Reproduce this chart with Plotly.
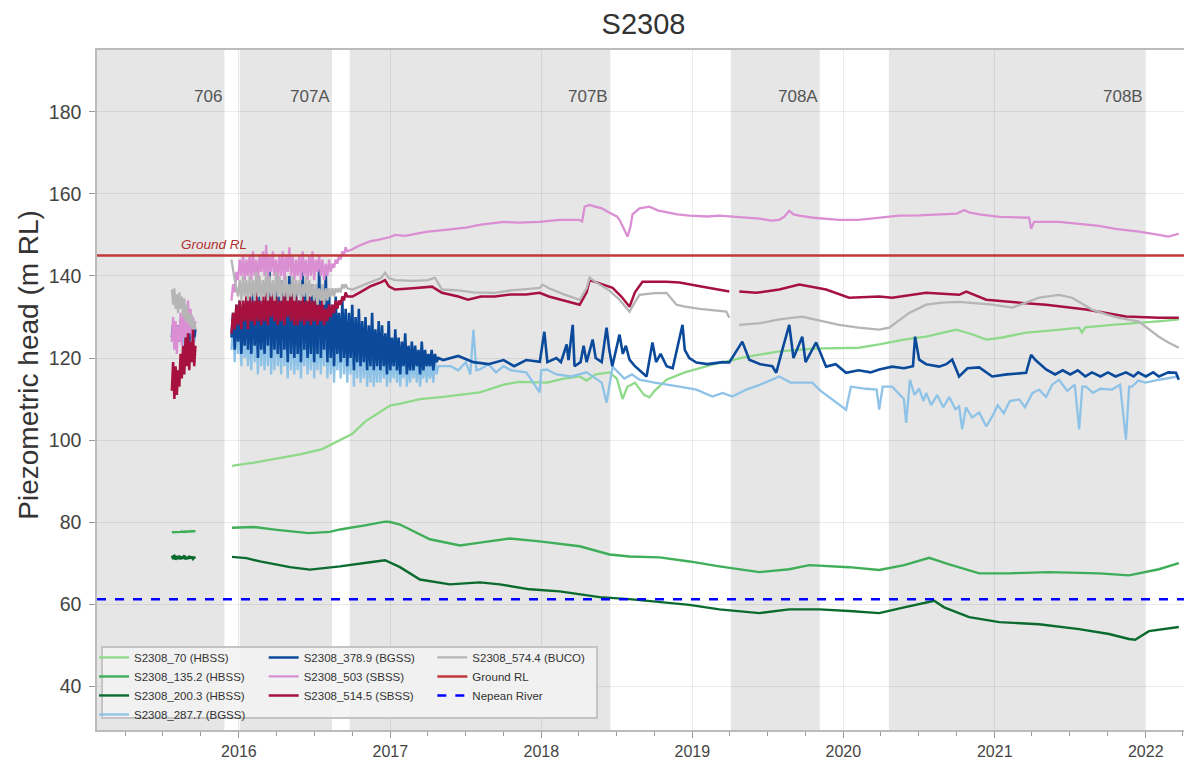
import plotly.graph_objects as go
import pandas as pd
from datetime import datetime

# ---------------- data (late segments: (decimal year, m RL)) ----------------
# early 2015 block: values every 3 days from early_start
early_start = "2015-07-23"
# dense 2016 block: values every 4 days from dense_start
dense_start = "2015-12-14"

hbss70 = [(2015.954, 93.6), (2015.97, 93.8), (2016.10, 94.5), (2016.25, 95.5), (2016.403, 96.5),
          (2016.55, 97.8), (2016.668, 100.0), (2016.75, 101.5), (2016.833, 104.5), (2016.92, 106.5),
          (2016.998, 108.4), (2017.06, 108.8), (2017.196, 110.0), (2017.35, 110.5), (2017.5, 111.2),
          (2017.593, 111.6), (2017.751, 113.5), (2017.85, 114.2), (2018.036, 114.0), (2018.15, 115.0),
          (2018.254, 115.5), (2018.30, 114.5), (2018.36, 116.0), (2018.45, 116.5), (2018.50, 115.0),
          (2018.538, 110.0), (2018.57, 113.0), (2018.62, 114.0), (2018.68, 111.0), (2018.716, 110.4),
          (2018.75, 112.0), (2018.829, 114.7), (2018.95, 116.5), (2019.133, 118.4), (2019.358, 120.3),
          (2019.576, 121.6), (2019.80, 122.3), (2020.104, 122.5), (2020.237, 123.3), (2020.40, 124.5),
          (2020.547, 125.2), (2020.746, 126.9), (2020.85, 125.8), (2020.944, 124.5), (2021.05, 125.0),
          (2021.208, 126.2), (2021.40, 126.8), (2021.559, 127.4), (2021.578, 126.2), (2021.60, 127.5),
          (2021.777, 128.1), (2021.975, 128.6), (2022.10, 129.0), (2022.219, 129.4)]

hbss135_early = [77.5, 77.5, 77.6, 77.5, 77.6, 77.6, 77.5, 77.6, 77.7, 77.6,
                 77.7, 77.6, 77.7, 77.7, 77.6, 77.7, 77.8, 77.7, 77.8, 77.8]
hbss135 = [(2015.954, 78.6), (2016.10, 78.8), (2016.251, 78.1), (2016.40, 77.5), (2016.46, 77.3),
           (2016.60, 77.6), (2016.668, 78.2), (2016.833, 79.2), (2016.965, 80.1), (2017.0, 80.0),
           (2017.064, 79.4), (2017.262, 75.8), (2017.461, 74.3), (2017.593, 75.0), (2017.791, 76.0),
           (2017.989, 75.3), (2018.254, 74.1), (2018.452, 72.1), (2018.584, 71.6), (2018.783, 71.4),
           (2018.981, 70.4), (2019.179, 69.2), (2019.444, 67.8), (2019.642, 68.5), (2019.774, 69.5),
           (2020.038, 69.0), (2020.237, 68.3), (2020.402, 69.5), (2020.567, 71.3), (2020.699, 69.7),
           (2020.898, 67.5), (2021.096, 67.5), (2021.36, 67.8), (2021.691, 67.5), (2021.889, 67.0),
           (2022.087, 68.5), (2022.219, 70.0)]

hbss200_early = [71.8, 71.0, 72.0, 70.8, 71.7, 71.0, 71.8, 70.9, 71.6, 71.1,
                 71.9, 70.9, 71.5, 71.0, 71.7, 71.1, 71.6, 71.0, 71.4, 71.2]
hbss200 = [(2015.954, 71.5), (2016.05, 71.2), (2016.139, 70.4), (2016.337, 69.0), (2016.469, 68.4),
           (2016.668, 69.2), (2016.866, 70.2), (2016.965, 70.7), (2017.064, 69.0), (2017.196, 66.0),
           (2017.395, 64.8), (2017.593, 65.3), (2017.725, 64.8), (2017.923, 63.6), (2018.122, 63.1),
           (2018.386, 61.7), (2018.584, 61.2), (2018.783, 60.5), (2018.981, 59.8), (2019.179, 58.7),
           (2019.444, 57.8), (2019.642, 58.7), (2019.84, 58.7), (2020.038, 58.3), (2020.237, 57.8),
           (2020.402, 59.2), (2020.567, 60.5), (2020.60, 60.8), (2020.666, 59.2), (2020.831, 56.8),
           (2021.03, 55.6), (2021.294, 55.1), (2021.559, 53.9), (2021.757, 52.7), (2021.889, 51.5),
           (2021.93, 51.3), (2022.021, 53.4), (2022.219, 54.4)]

bgss287_early = [124, 127, 123, 126, 125, 128, 124, 126, 125, 127,
                 123, 126, 125, 127, 124, 126, 125, 128, 124, 126]
bgss287_dense = [122, 128, 119, 130, 121, 127, 118, 129, 120, 126,
                 118, 128, 117, 130, 119, 127, 116, 129, 118, 128,
                 117, 129, 118, 131, 116, 128, 117, 130, 118, 127,
                 116, 129, 118, 127, 115, 130, 117, 128, 116, 126,
                 117, 128, 115, 129, 118, 127, 116, 126, 117, 129,
                 115, 127, 117, 128, 116, 126, 118, 130, 115, 127,
                 116, 126, 114, 127, 117, 125, 115, 128, 116, 125,
                 114, 125, 116, 127, 113, 124, 115, 126, 114, 123,
                 115, 124, 113, 122, 114, 125, 113, 121, 114, 123,
                 114, 122, 115, 121, 113, 123, 114, 120, 115, 122,
                 114, 121, 113, 120, 115, 122, 113, 119, 114, 121,
                 115, 120, 114, 121, 113, 119, 115, 120, 114, 119,
                 115, 119, 114, 120, 116, 118]
bgss287 = [(2017.40, 118.0), (2017.45, 117.0), (2017.50, 119.0), (2017.53, 116.0), (2017.55, 126.9),
           (2017.57, 117.0), (2017.593, 117.2), (2017.65, 118.5), (2017.70, 116.5), (2017.75, 118.0),
           (2017.80, 117.0), (2017.90, 116.5), (2017.989, 111.6), (2018.0, 117.0), (2018.036, 117.2),
           (2018.10, 116.0), (2018.20, 115.5), (2018.30, 116.5), (2018.40, 114.0), (2018.432, 109.1),
           (2018.472, 117.9), (2018.55, 115.0), (2018.60, 116.0), (2018.65, 114.7), (2018.75, 114.0),
           (2018.85, 113.5), (2018.915, 113.0), (2019.027, 112.3), (2019.133, 110.6), (2019.20, 111.5),
           (2019.265, 110.6), (2019.358, 112.3), (2019.45, 113.5), (2019.576, 115.5), (2019.65, 114.0),
           (2019.794, 114.0), (2019.85, 112.0), (2020.018, 107.4), (2020.05, 113.0), (2020.15, 112.5),
           (2020.22, 112.3), (2020.237, 107.4), (2020.26, 113.0), (2020.323, 113.0), (2020.40, 110.0),
           (2020.415, 104.2), (2020.44, 114.7), (2020.47, 111.0), (2020.50, 112.5), (2020.53, 109.5),
           (2020.547, 111.5), (2020.58, 108.5), (2020.62, 111.0), (2020.66, 108.0), (2020.70, 110.5),
           (2020.74, 107.5), (2020.765, 108.2), (2020.785, 102.6), (2020.81, 108.0), (2020.85, 105.5),
           (2020.898, 106.7), (2020.944, 103.3), (2020.983, 105.7), (2021.02, 108.5), (2021.06, 106.5),
           (2021.10, 109.5), (2021.162, 109.9), (2021.20, 108.0), (2021.25, 111.5), (2021.294, 112.3),
           (2021.34, 110.5), (2021.38, 113.5), (2021.426, 114.7), (2021.48, 112.0), (2021.53, 113.5),
           (2021.559, 102.6), (2021.58, 113.0), (2021.605, 113.0), (2021.65, 111.5), (2021.70, 112.5),
           (2021.777, 112.3), (2021.83, 113.5), (2021.869, 100.1), (2021.89, 113.0), (2021.909, 113.0),
           (2021.95, 114.5), (2022.0, 114.0), (2022.087, 114.7), (2022.15, 115.0), (2022.219, 115.5)]

bgss378_early = [125, 128, 124, 127, 125, 128, 124, 129, 125, 128,
                 126, 127, 125, 128, 124, 127, 126, 128, 125, 127]
bgss378_dense = [125, 131, 122, 133, 124, 134, 121, 132, 123, 135,
                 122, 134, 121, 136, 123, 133, 120, 135, 122, 134,
                 121, 136, 123, 141, 120, 134, 122, 137, 121, 135,
                 120, 139, 122, 136, 119, 140, 121, 135, 120, 137,
                 121, 134, 119, 141, 122, 136, 120, 135, 121, 138,
                 119, 136, 121, 142, 120, 134, 122, 141, 119, 135,
                 120, 133, 118, 135, 121, 131, 119, 134, 120, 132,
                 118, 131, 120, 133, 117, 130, 119, 132, 118, 129,
                 119, 130, 117, 128, 118, 131, 117, 127, 118, 129,
                 117, 128, 118, 126, 116, 129, 117, 125, 118, 127,
                 117, 125, 116, 124, 118, 126, 116, 123, 117, 124,
                 117, 123, 118, 122, 116, 124, 117, 122, 118, 121,
                 118, 122, 117, 121, 119, 120]
bgss378 = [(2017.35, 119.5), (2017.45, 120.5), (2017.55, 119.0), (2017.65, 118.5), (2017.75, 119.5),
           (2017.82, 118.0), (2017.90, 119.5), (2017.99, 119.1), (2018.02, 126.4), (2018.04, 119.0),
           (2018.10, 120.0), (2018.13, 119.0), (2018.168, 123.3), (2018.18, 119.5), (2018.208, 128.1),
           (2018.22, 118.0), (2018.26, 119.0), (2018.28, 123.0), (2018.30, 119.0), (2018.34, 124.5),
           (2018.36, 120.0), (2018.40, 119.0), (2018.432, 127.4), (2018.45, 122.0), (2018.47, 118.0),
           (2018.518, 125.7), (2018.54, 121.0), (2018.56, 123.0), (2018.584, 119.6), (2018.62, 118.0),
           (2018.697, 115.5), (2018.736, 123.8), (2018.76, 119.0), (2018.79, 121.0), (2018.83, 118.0),
           (2018.87, 117.5), (2018.935, 128.1), (2018.95, 122.0), (2018.98, 120.0), (2019.027, 118.9),
           (2019.10, 118.5), (2019.20, 119.0), (2019.245, 118.9), (2019.331, 124.0), (2019.377, 119.6),
           (2019.45, 118.5), (2019.53, 118.0), (2019.556, 116.4), (2019.596, 122.0), (2019.642, 128.1),
           (2019.67, 120.0), (2019.728, 125.2), (2019.75, 119.0), (2019.82, 123.8), (2019.886, 117.9),
           (2019.95, 118.5), (2020.018, 116.4), (2020.10, 117.0), (2020.18, 116.5), (2020.237, 117.2),
           (2020.323, 117.9), (2020.40, 117.5), (2020.46, 118.0), (2020.474, 125.2), (2020.501, 119.6),
           (2020.547, 118.5), (2020.633, 117.9), (2020.68, 118.5), (2020.719, 119.6), (2020.765, 115.5),
           (2020.82, 117.5), (2020.898, 117.7), (2020.983, 115.5), (2021.08, 116.0), (2021.208, 116.4),
           (2021.241, 120.8), (2021.27, 119.5), (2021.34, 117.2), (2021.40, 116.0), (2021.45, 117.0),
           (2021.50, 116.0), (2021.55, 117.0), (2021.60, 115.5), (2021.644, 116.5), (2021.70, 115.5),
           (2021.75, 116.5), (2021.80, 115.5), (2021.869, 116.5), (2021.92, 115.5), (2021.95, 116.5),
           (2022.0, 115.5), (2022.05, 116.5), (2022.087, 115.5), (2022.15, 116.5), (2022.20, 116.4),
           (2022.219, 114.7)]

sbss503_early = [124, 130, 122, 129, 121, 128, 124, 131, 123, 130,
                 125, 133, 124, 134, 126, 132, 125, 130, 127, 129]
sbss503_dense = [134, 138, 136, 141, 139, 144, 140, 145, 139, 144,
                 140, 145, 139, 146, 140, 144, 139, 145, 141, 146,
                 140, 147.6, 139, 145, 141, 146, 140, 144, 139, 145,
                 140, 146, 139, 145, 141, 147, 140, 145, 139, 144,
                 140, 145, 139, 146, 140, 144, 139, 145, 140, 146,
                 139, 144, 141, 145, 140, 144, 139, 143, 140, 144,
                 141, 143, 142, 144, 143, 145, 144, 146, 145, 147, 146]
sbss503 = [(2016.75, 146.5), (2016.80, 147.5), (2016.87, 148.5), (2016.92, 148.8), (2017.0, 149.5),
           (2017.03, 150.0), (2017.10, 149.8), (2017.20, 150.5), (2017.25, 150.8), (2017.35, 151.2),
           (2017.50, 151.8), (2017.60, 152.5), (2017.75, 153.2), (2017.85, 153.0), (2017.99, 153.2),
           (2018.12, 153.7), (2018.25, 153.7), (2018.27, 153.3), (2018.287, 156.9), (2018.32, 157.3),
           (2018.353, 157.0), (2018.40, 156.5), (2018.452, 155.4), (2018.50, 154.5), (2018.518, 153.7),
           (2018.55, 151.0), (2018.571, 149.6), (2018.59, 152.0), (2018.604, 155.0), (2018.65, 156.5),
           (2018.716, 156.9), (2018.77, 156.0), (2018.816, 155.7), (2018.90, 155.0), (2018.981, 154.7),
           (2019.10, 154.5), (2019.179, 154.7), (2019.30, 154.3), (2019.444, 154.0), (2019.52, 153.5),
           (2019.576, 153.7), (2019.61, 154.5), (2019.642, 155.9), (2019.67, 155.0), (2019.708, 154.7),
           (2019.80, 154.2), (2019.972, 153.7), (2020.10, 153.7), (2020.171, 154.0), (2020.30, 154.4),
           (2020.369, 154.7), (2020.50, 154.8), (2020.633, 155.0), (2020.75, 155.2), (2020.799, 156.1),
           (2020.83, 155.5), (2020.898, 155.0), (2021.03, 154.4), (2021.15, 154.3), (2021.228, 154.2),
           (2021.241, 151.5), (2021.26, 153.2), (2021.426, 153.2), (2021.55, 152.8), (2021.691, 152.2),
           (2021.80, 151.5), (2021.955, 150.8), (2022.087, 150.0), (2022.15, 149.6), (2022.219, 150.3)]

sbss514_early = [112, 119, 110, 118, 111, 117, 113, 121, 115, 123,
                 116, 125, 118, 126, 117, 124, 119, 127, 118, 123]
sbss514_dense = [126, 131, 127, 133, 128, 134, 127, 134, 129, 135,
                 127, 135, 129, 134, 128, 136, 129, 134, 128, 135,
                 129, 136, 128, 135, 130, 136, 129, 135, 128, 134,
                 129, 135, 128, 136, 130, 135, 129, 136, 128, 135,
                 128, 134, 129, 135, 128, 134, 129, 135, 128, 134,
                 129, 134, 128, 133, 129, 134, 128, 132, 129, 133,
                 130, 133, 131, 134, 132, 134, 133, 135, 134, 136, 135]
sbss514 = [(2016.75, 135.0), (2016.80, 136.0), (2016.87, 137.5), (2016.94, 138.5), (2016.965, 139.0),
           (2016.99, 137.5), (2017.031, 136.7), (2017.15, 137.0), (2017.276, 137.4), (2017.342, 135.9),
           (2017.45, 135.0), (2017.514, 134.2), (2017.60, 135.0), (2017.692, 135.0), (2017.80, 135.5),
           (2017.90, 135.5), (2017.989, 135.9), (2018.05, 135.0), (2018.15, 134.0), (2018.254, 133.0),
           (2018.30, 136.0), (2018.32, 139.0), (2018.40, 138.0), (2018.472, 137.1), (2018.53, 135.0),
           (2018.584, 132.5), (2018.62, 136.0), (2018.67, 138.6), (2018.829, 138.6), (2018.915, 138.4),
           (2019.05, 137.5), (2019.15, 136.8), (2019.245, 136.2), (2019.28, None), (2019.311, 136.2),
           (2019.424, 135.9), (2019.576, 136.7), (2019.708, 137.9), (2019.886, 136.7), (2020.038, 134.7),
           (2020.237, 135.0), (2020.323, 134.7), (2020.547, 135.9), (2020.765, 135.4), (2020.812, 136.2),
           (2020.944, 134.2), (2021.162, 133.5), (2021.340, 133.0), (2021.605, 131.8), (2021.869, 130.1),
           (2022.087, 129.8), (2022.219, 129.8)]

buco574_early = [136.7, 133, 137, 132, 135.5, 131, 136, 132, 135, 130,
                 134.5, 129, 133, 128.5, 131, 127.5, 130.5, 127, 129, 127]
buco574_dense = [144, 141, 139, 137, 135, 139, 134, 140, 135, 139,
                 134, 140, 135, 139, 134, 141, 135, 140, 134, 139,
                 135, 141, 134, 140, 135, 139, 134, 141, 135, 140,
                 134, 139, 135, 140, 134, 138, 135, 140, 134, 139,
                 135, 139, 134, 138, 135, 140, 134, 139, 135, 138,
                 134, 138, 133, 137, 134, 138, 133, 137, 134, 137,
                 135, 137, 135, 137, 136, 137, 136, 138, 137, 138, 137]
buco574 = [(2016.75, 136.7), (2016.80, 137.5), (2016.87, 138.5), (2016.94, 139.5), (2016.965, 140.8),
           (2016.99, 139.5), (2017.031, 139.0), (2017.15, 138.8), (2017.249, 139.0), (2017.295, 139.6),
           (2017.342, 136.7), (2017.45, 136.5), (2017.55, 136.0), (2017.692, 135.9), (2017.80, 136.5),
           (2017.90, 136.8), (2017.989, 137.1), (2018.009, 137.9), (2018.05, 137.0), (2018.15, 135.5),
           (2018.254, 134.2), (2018.30, 137.0), (2018.32, 139.6), (2018.36, 138.5), (2018.45, 136.5),
           (2018.518, 134.2), (2018.584, 131.3), (2018.61, 133.0), (2018.65, 135.4), (2018.75, 135.8),
           (2018.829, 135.9), (2018.895, 133.0), (2018.95, 132.5), (2019.05, 132.0), (2019.15, 131.6),
           (2019.225, 131.3), (2019.245, 129.8), (2019.28, None), (2019.311, 128.1), (2019.45, 128.5),
           (2019.576, 129.4), (2019.728, 130.1), (2019.80, 129.5), (2019.972, 128.1), (2020.10, 127.4),
           (2020.237, 126.9), (2020.303, 127.4), (2020.36, 129.0), (2020.435, 131.0), (2020.547, 133.0),
           (2020.65, 133.5), (2020.765, 133.7), (2020.90, 133.3), (2020.983, 133.0), (2021.116, 132.3),
           (2021.20, 133.5), (2021.294, 134.7), (2021.426, 135.4), (2021.512, 134.7), (2021.644, 131.8),
           (2021.75, 130.5), (2021.823, 129.8), (2021.955, 128.9), (2022.087, 125.2), (2022.15, 123.8),
           (2022.219, 122.5)]

ground_rl = 145.0
nepean_river = 61.2

period_names = ["706", "707A", "707B", "708A", "708B"]
period_start = ["2015-01-23", "2016-01-03", "2016-09-25", "2019-04-04", "2020-04-20"]
period_end = ["2015-11-27", "2016-08-13", "2018-06-17", "2019-11-05", "2021-12-30"]

x_range = ["2015-01-23", "2022-04-18"]
y_range = [29.3, 195.1]
y_ticks = [40, 60, 80, 100, 120, 140, 160, 180]


# ---------------- helpers ----------------
def dy(v):
    y = int(v)
    s, e = datetime(y, 1, 1), datetime(y + 1, 1, 1)
    return s + (e - s) * (v - y)


def build(early=None, dense=None, late=None):
    xs, ys = [], []
    if early:
        xs += list(pd.date_range(early_start, periods=len(early), freq="3D"))
        ys += list(early)
        xs.append(dy(2015.85))
        ys.append(None)
    if dense:
        xs += list(pd.date_range(dense_start, periods=len(dense), freq="4D"))
        ys += list(dense)
    if late:
        xs += [dy(t) for t, _ in late]
        ys += [v for _, v in late]
    return xs, ys


series = [
    ("S2308_70 (HBSS)", "#8fd98a", build(late=hbss70), "legend", 2.3),
    ("S2308_135.2 (HBSS)", "#3fae58", build(hbss135_early, None, hbss135), "legend", 2.4),
    ("S2308_200.3 (HBSS)", "#0b6b2e", build(hbss200_early, None, hbss200), "legend", 2.4),
    ("S2308_287.7 (BGSS)", "#8ec3e7", build(bgss287_early, bgss287_dense, bgss287), "legend", 2.3),
    ("S2308_378.9 (BGSS)", "#0b4a9b", build(bgss378_early, bgss378_dense, bgss378), "legend2", 2.6),
    ("S2308_503 (SBSS)", "#d98fd2", build(sbss503_early, sbss503_dense, sbss503), "legend2", 2.3),
    ("S2308_514.5 (SBSS)", "#a6113f", build(sbss514_early, sbss514_dense, sbss514), "legend2", 2.5),
    ("S2308_574.4 (BUCO)", "#b5b5b5", build(buco574_early, buco574_dense, buco574), "legend3", 2.3),
]

FONT = "Liberation Sans"

fig = go.Figure()
for name, color, (xs, ys), lg, w in series:
    fig.add_trace(go.Scatter(x=xs, y=ys, mode="lines", name=name, legend=lg,
                             line=dict(color=color, width=w)))

fig.add_trace(go.Scatter(x=x_range, y=[ground_rl, ground_rl], mode="lines", name="Ground RL",
                         legend="legend3", line=dict(color="#c0393a", width=2.5)))
fig.add_trace(go.Scatter(x=x_range, y=[nepean_river, nepean_river], mode="lines", name="Nepean River",
                         legend="legend3", line=dict(color="#0000ff", width=2.5, dash="dash")))

# shaded longwall periods
for nm, s, e in zip(period_names, period_start, period_end):
    fig.add_shape(type="rect", xref="x", yref="paper", x0=s, x1=e, y0=0, y1=1,
                  fillcolor="#e6e6e6", line=dict(width=0), layer="below")
    fig.add_annotation(x=e, y=183.8, xref="x", yref="y", text=nm, showarrow=False,
                       xanchor="right", yanchor="middle",
                       font=dict(size=17, color="#555555", family=FONT))

fig.add_annotation(x="2015-11-03", y=147.6, xref="x", yref="y", text="<i>Ground RL</i>",
                   showarrow=False, xanchor="center", yanchor="middle",
                   font=dict(size=13.5, color="#b03030", family=FONT))

# y-axis title (placed as annotation to match reference position)
fig.add_annotation(x=-0.0630, y=0.5374, xref="paper", yref="paper", text="Piezometric head (m RL)",
                   showarrow=False, textangle=-90, xanchor="center", yanchor="middle",
                   font=dict(size=28, color="#333333", family=FONT))

# legend box
fig.add_shape(type="rect", xref="paper", yref="paper", x0=0.0046, x1=0.4575, y0=0.0176, y1=0.1219,
              fillcolor="rgba(242,242,242,0.88)", line=dict(color="#c4c4c4", width=2), layer="above")

leg_common = dict(bgcolor="rgba(0,0,0,0)", borderwidth=0, yanchor="top", xanchor="left",
                  font=dict(size=11.5, color="#333333", family=FONT),
                  orientation="v", tracegroupgap=0, itemwidth=30)
y_leg = 0.1280

fig.update_layout(
    width=1184, height=752,
    margin=dict(l=89, r=0, t=42, b=29),
    paper_bgcolor="white", plot_bgcolor="white",
    font=dict(family=FONT, color="#444444"),
    title=dict(text="S2308", x=0.5, xref="paper", xanchor="center", y=0.979, yanchor="middle",
               font=dict(size=29, color="#333333", family=FONT)),
    showlegend=True,
    legend=dict(x=-0.0027, y=y_leg, **leg_common),
    legend2=dict(x=0.1525, y=y_leg, **leg_common),
    legend3=dict(x=0.3068, y=y_leg, **leg_common),
)

fig.update_xaxes(type="date", range=x_range, tickformat="%Y", dtick="M12", tick0="2016-01-01",
                 showgrid=True, gridcolor="rgba(0,0,0,0.08)", gridwidth=1,
                 ticks="outside", ticklen=6, tickcolor="#999999",
                 tickfont=dict(size=16, color="#444444", family=FONT),
                 minor=dict(dtick="M3", ticks="outside", ticklen=4, tickcolor="#999999", showgrid=False),
                 showline=True, linecolor="#bbbbbb", linewidth=1.5, mirror=True, zeroline=False)
fig.update_yaxes(range=y_range, tickvals=y_ticks,
                 showgrid=True, gridcolor="rgba(0,0,0,0.08)", gridwidth=1,
                 ticks="outside", ticklen=6, tickcolor="#999999", ticklabelstandoff=4,
                 tickfont=dict(size=19.5, color="#444444", family=FONT),
                 showline=True, linecolor="#bbbbbb", linewidth=1.5, mirror=True, zeroline=False)

fig.write_html("out.html")
